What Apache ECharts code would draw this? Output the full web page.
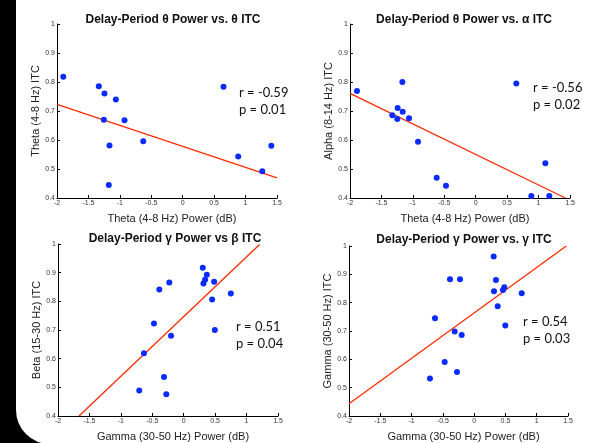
<!DOCTYPE html>
<html>
<head>
<meta charset="utf-8">
<title>Delay-Period Power vs ITC</title>
<script src="https://cdn.jsdelivr.net/npm/echarts@6/dist/echarts.min.js"></script>
<style>
  html, body { margin: 0; padding: 0; background: #000; }
  #panel { position: absolute; left: 16px; top: -40px; width: 620px; height: 484px;
           background: #fff; border-bottom-left-radius: 34px; }
  #main { position: absolute; left: 0; top: 0; width: 589px; height: 443px; }
  body { width: 589px; height: 443px; overflow: hidden; position: relative; }
</style>
</head>
<body>
<div id="panel"></div>
<div id="main"></div>
<script>
// theta power vs theta ITC
var thetaThetaPts = [
  [-1.90, 0.818], [-1.335, 0.785], [-1.245, 0.760], [-1.064, 0.740],
  [-1.255, 0.670], [-0.926, 0.668], [-1.165, 0.581], [-0.628, 0.596],
  [-1.176, 0.445], [0.649, 0.784], [0.883, 0.543], [1.266, 0.492], [1.41, 0.580]
];
var thetaThetaFit = [[-2, 0.723], [1.5, 0.469]];

// theta power vs alpha ITC
var thetaAlphaPts = [
  [-1.889, 0.769], [-1.167, 0.800], [-1.327, 0.685], [-1.242, 0.710],
  [-1.247, 0.672], [-1.162, 0.697], [-1.061, 0.675], [-0.918, 0.594],
  [-0.621, 0.470], [-0.473, 0.442], [0.646, 0.795], [1.108, 0.520],
  [0.885, 0.407], [1.171, 0.407]
];
var thetaAlphaFit = [[-2, 0.761], [1.426, 0.4]];

// gamma power vs beta ITC
var gammaBetaPts = [
  [0.303, 0.917], [0.367, 0.893], [0.340, 0.875], [0.314, 0.862],
  [0.484, 0.868], [-0.229, 0.866], [-0.388, 0.841], [0.750, 0.827],
  [0.452, 0.806], [-0.473, 0.723], [0.495, 0.700], [-0.202, 0.680],
  [-0.633, 0.619], [-0.314, 0.536], [-0.707, 0.489], [-0.277, 0.476]
];
var gammaBetaFit = [[-1.665, 0.4], [1.207, 0.998]];

// gamma power vs gamma ITC
var gammaGammaPts = [
  [0.312, 0.963], [-0.386, 0.883], [-0.226, 0.883], [0.349, 0.880],
  [0.317, 0.840], [0.461, 0.845], [0.482, 0.854], [0.760, 0.833],
  [0.376, 0.787], [-0.626, 0.745], [0.498, 0.719], [-0.311, 0.698],
  [-0.199, 0.686], [-0.471, 0.591], [-0.274, 0.555], [-0.706, 0.532]
];
var gammaGammaFit = [[-2, 0.443], [1.473, 1.0]];

var titles = [
  'Delay-Period \u03b8 Power vs. \u03b8 ITC',
  'Delay-Period \u03b8 Power vs. \u03b1 ITC',
  'Delay-Period \u03b3 Power vs \u03b2 ITC',
  'Delay-Period \u03b3 Power vs. \u03b3 ITC'
];
var xNames = ['Theta (4-8 Hz) Power (dB)', 'Theta (4-8 Hz) Power (dB)',
              'Gamma (30-50 Hz) Power (dB)', 'Gamma (30-50 Hz) Power (dB)'];
var yNames = ['Theta (4-8 Hz) ITC', 'Alpha (8-14 Hz) ITC',
              'Beta (15-30 Hz) ITC', 'Gamma (30-50 Hz) ITC'];
var rLabels = ['r = -0.59', 'r = -0.56', 'r = 0.51', 'r = 0.54'];
var pLabels = ['p = 0.01', 'p = 0.02', 'p = 0.04', 'p = 0.03'];

var pts = [thetaThetaPts, thetaAlphaPts, gammaBetaPts, gammaGammaPts];
var fits = [thetaThetaFit, thetaAlphaFit, gammaBetaFit, gammaGammaFit];

var grids = [
  {left: 57, top: 24, width: 220, height: 174},
  {left: 350, top: 24, width: 220, height: 174},
  {left: 58, top: 244, width: 220, height: 174},
  {left: 349, top: 246, width: 219, height: 172}
];
var titlePos = [[168, 9], [459, 9], [170, 228], [459, 229]];
var notePos = [[239, 94], [533, 89], [236, 328], [523, 323]];

var chart = echarts.init(document.getElementById('main'));

var xAxes = [], yAxes = [], series = [], titleOpts = [], graphics = [];
for (var i = 0; i < 4; i++) {
  titleOpts.push({
    text: titles[i], left: titlePos[i][0], top: titlePos[i][1], textAlign: 'center',
    textStyle: {fontFamily: 'Liberation Sans', fontSize: 12, fontWeight: 'bold', color: '#111'}
  });
  xAxes.push({
    gridIndex: i, type: 'value', min: -2, max: 1.5, interval: 0.5,
    name: xNames[i], nameLocation: 'middle', nameGap: 15,
    nameTextStyle: {fontFamily: 'Liberation Sans', fontSize: 11, color: '#222', padding: [0, 0, 0, 10]},
    axisLine: {onZero: false, lineStyle: {color: '#000', width: 1}},
    axisTick: {inside: true, length: 3, lineStyle: {color: '#000'}},
    axisLabel: {fontFamily: 'Liberation Sans', fontSize: 7, color: '#333', margin: 2},
    splitLine: {show: false}
  });
  yAxes.push({
    gridIndex: i, type: 'value', min: 0.4, max: 1, interval: 0.1,
    name: yNames[i], nameLocation: 'middle', nameGap: 16,
    nameTextStyle: {fontFamily: 'Liberation Sans', fontSize: 11, color: '#222'},
    axisLine: {show: true, onZero: false, lineStyle: {color: '#000', width: 1}},
    axisTick: {show: true, inside: true, length: 3, lineStyle: {color: '#000'}},
    axisLabel: {fontFamily: 'Liberation Sans', fontSize: 7, color: '#333', margin: 2,
                formatter: function (v) { return +v.toFixed(1) + ''; }},
    splitLine: {show: false}
  });
  series.push({
    type: 'line', xAxisIndex: i, yAxisIndex: i, data: fits[i],
    symbol: 'none', lineStyle: {color: '#ff2a00', width: 1.3}, z: 2
  });
  series.push({
    type: 'scatter', xAxisIndex: i, yAxisIndex: i, data: pts[i],
    symbolSize: 6, itemStyle: {color: '#0a2bff', opacity: 1}, z: 3
  });
  graphics.push({
    type: 'text', left: notePos[i][0], top: notePos[i][1] - 8,
    style: {text: rLabels[i], font: '13px Lato', fill: '#111'}
  });
  graphics.push({
    type: 'text', left: notePos[i][0], top: notePos[i][1] + 9,
    style: {text: pLabels[i], font: '13px Lato', fill: '#111'}
  });
}

chart.setOption({
  animation: false,
  title: titleOpts,
  grid: grids,
  xAxis: xAxes,
  yAxis: yAxes,
  series: series,
  graphic: graphics
});
</script>
</body>
</html>
